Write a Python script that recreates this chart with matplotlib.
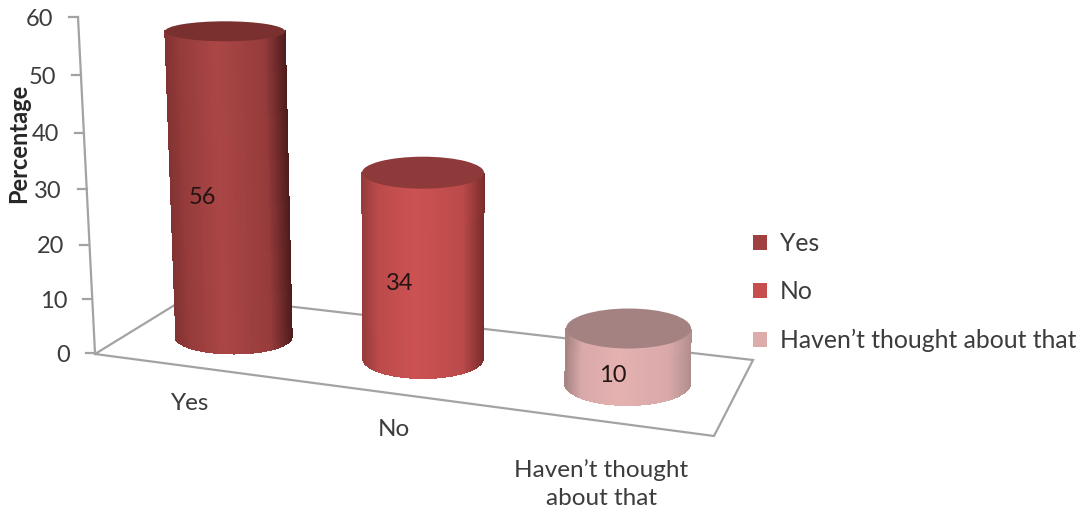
import numpy as np
from matplotlib import pyplot as plt
from matplotlib.colors import LinearSegmentedColormap
from matplotlib.patches import Ellipse, Patch

plt.rcParams['font.family'] = ['Lato', 'DejaVu Sans']

categories = ['Yes', 'No', 'Haven\u2019t thought\nabout that']
legendLabels = ['Yes', 'No', 'Haven\u2019t thought about that']
percentages = [56, 34, 10]
axisTicks = [0, 10, 20, 30, 40, 50, 60]

# base centre x, base centre y, base rx, base ry, top centre x, top rx, top ry
cylinderShapes = [
    (233.5, 336.5, 58, 17, 225, 60, 10),
    (423, 358, 60, 20, 423, 61, 16),
    (627.5, 383, 62.5, 22, 628.5, 62.5, 20),
]
# left edge, highlight, shoulder, right edge, top face, legend key
cylinderColours = [
    ('#833333', '#ab4646', '#963b3b', '#4f1c1c', '#7b3030', '#a04040'),
    ('#983c3c', '#cc5252', '#bb4a4a', '#7a2c2c', '#8f3a3a', '#c64e4e'),
    ('#a88484', '#e5b1b1', '#d9a8a8', '#b08e8e', '#a58282', '#deabab'),
]
labelPositions = [(202, 198), (400, 283), (613, 376)]
categoryPositions = [(190, 404), (394, 430), (601, 484)]

PIXELS_PER_UNIT = 5.45
GREY = '#a3a3a3'
TEXT = '#3c3c3c'


def axisY(value):
    # The wall recedes a little, so the units get slightly longer going up
    return 353 - value * (5.33 + 0.0045 * value)


def axisX(value):
    return 95 - 17 * value / 60


def drawFloor(ax):
    ax.plot([axisX(0), 191, 753, 714, axisX(0)], [354, 295, 360, 436, 354],
            color=GREY, lw=1.6, solid_joinstyle='miter', zorder=1)


def drawAxis(ax):
    ax.plot([axisX(0), axisX(60)], [axisY(0), axisY(60)], color=GREY, lw=1.6, zorder=1)
    for tick in axisTicks:
        x, y = axisX(tick), axisY(tick)
        ax.plot([x - 9, x], [y, y], color=GREY, lw=1.6, zorder=1)
        ax.text(x - 25, y + 2, str(tick), ha='right', va='center', fontsize=17, color=TEXT)
    ax.text(19, 143, 'Percentage', rotation=90, ha='center', va='center',
            fontsize=17, fontweight='bold', color='#262626', zorder=6)


def drawCylinder(ax, value, shape, colours):
    baseX, baseY, baseRx, baseRy, topX, topRx, topRy = shape
    left, high, mid, right, topFace, _ = colours
    topY = baseY - value * PIXELS_PER_UNIT

    # Front half of the side wall, sliced from the right edge to the left edge
    angles = np.linspace(0, np.pi, 241)
    xs = np.vstack([topX + topRx * np.cos(angles), baseX + baseRx * np.cos(angles)])
    ys = np.vstack([topY + topRy * np.sin(angles), baseY + baseRy * np.sin(angles)])
    shade = (1 + np.cos((angles[:-1] + angles[1:]) / 2)) / 2
    cmap = LinearSegmentedColormap.from_list('side', [
        (0.0, left), (0.12, mid), (0.42, high), (0.82, mid), (1.0, right)])
    ax.pcolormesh(xs, ys, shade[None, :], cmap=cmap, vmin=0, vmax=1,
                  shading='flat', edgecolors='face', linewidth=0.3, zorder=3)

    ax.add_patch(Ellipse((topX, topY), 2 * topRx, 2 * topRy, facecolor=topFace,
                         edgecolor='none', zorder=4))


fig = plt.figure(figsize=(10.87, 5.14), dpi=100)
ax = fig.add_axes([0, 0, 1, 1])
ax.set_xlim(0, 1087)
ax.set_ylim(514, 0)
ax.axis('off')

drawFloor(ax)
drawAxis(ax)

for value, shape, colours, pos in zip(percentages, cylinderShapes, cylinderColours, labelPositions):
    drawCylinder(ax, value, shape, colours)
    ax.text(pos[0], pos[1], str(value), ha='center', va='center', fontsize=17,
            color='#241414', zorder=5)

for name, pos in zip(categories, categoryPositions):
    ax.text(pos[0], pos[1], name, ha='center', va='center', fontsize=17.5, color=TEXT,
            linespacing=1.45)

handles = [Patch(facecolor=c[5], edgecolor='none', label=n)
           for c, n in zip(cylinderColours, legendLabels)]
fig.legend(handles=handles, loc='center left', bbox_to_anchor=(753 / 1087, 1 - 292 / 514),
           frameon=False, fontsize=17.8, labelcolor=TEXT, labelspacing=1.03,
           handlelength=0.56, handleheight=0.56, handletextpad=0.54, borderpad=0, borderaxespad=0)

fig.savefig('out.png', dpi=100)
